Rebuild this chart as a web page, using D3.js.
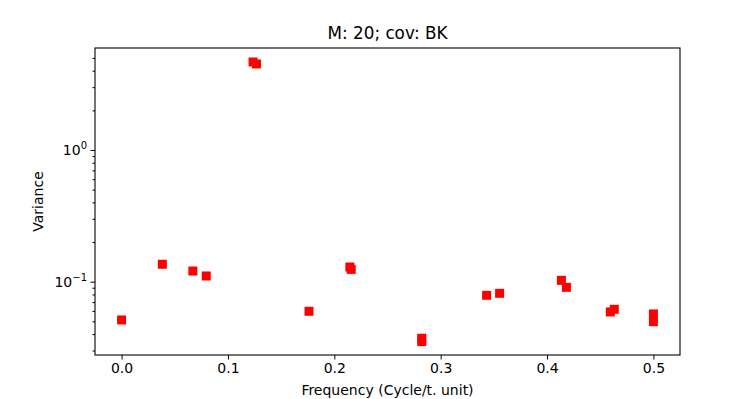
<!DOCTYPE html>
<html>
<head>
<meta charset="utf-8">
<script src="https://cdn.jsdelivr.net/npm/d3@7"></script>
<style>
  body { margin: 0; background: #fff; }
  text { font-family: "DejaVu Sans", sans-serif; fill: #000; }
</style>
</head>
<body>
<div id="chart"></div>
<script>
// frequencies and variances
var freq = [0.0, 0.0383, 0.067, 0.0796, 0.1236, 0.1268, 0.1762, 0.2146, 0.2159,
            0.2822, 0.2822, 0.3432, 0.3554, 0.4135, 0.4182, 0.4595, 0.4632, 0.5, 0.5];
var variance = [0.0512, 0.1356, 0.1205, 0.1105, 4.66, 4.50, 0.0596, 0.1293, 0.124,
                0.0372, 0.0351, 0.0788, 0.0816, 0.1024, 0.0906, 0.0589, 0.0617, 0.0569, 0.0497];
var xTicks = [0.0, 0.1, 0.2, 0.3, 0.4, 0.5];
var yMajor = [0.1, 1];
var titleText = "M: 20; cov: BK";

(function () {
  var W = 756, H = 399;
  var mLeft = 95, mRight = 680, mTop = 48, mBottom = 355;

  var svg = d3.select("#chart").append("svg")
      .attr("width", W).attr("height", H);

  var x = d3.scaleLinear().domain([-0.025, 0.525]).range([mLeft, mRight]);
  var y = d3.scaleLog().domain([0.02775, 5.95]).range([mBottom, mTop]);

  // minor ticks for log axis
  var yMinor = [];
  [0.01, 0.1, 1].forEach(function (dec) {
    for (var k = 2; k <= 9; k++) {
      var v = dec * k;
      if (v >= y.domain()[0] && v <= y.domain()[1]) yMinor.push(v);
    }
  });

  var pts = freq.map(function (f, i) { return { f: f, v: variance[i] }; });

  svg.append("g").selectAll("rect")
    .data(pts)
    .enter().append("rect")
      .attr("x", function (d) { return x(d.f) - 4.5; })
      .attr("y", function (d) { return y(d.v) - 4.5; })
      .attr("width", 9).attr("height", 9)
      .attr("fill", "#ff0000");

  // frame
  svg.append("rect")
    .attr("x", mLeft).attr("y", mTop)
    .attr("width", mRight - mLeft).attr("height", mBottom - mTop)
    .attr("fill", "none").attr("stroke", "#000").attr("stroke-width", 1.1);

  var xAxis = d3.axisBottom(x).tickValues(xTicks).tickFormat(d3.format(".1f"))
    .tickSize(4.5).tickPadding(4);
  var gx = svg.append("g").attr("transform", "translate(0," + mBottom + ")").call(xAxis);
  gx.select(".domain").remove();
  gx.selectAll("text").style("font-size", "14px").style("font-family", "DejaVu Sans");

  var yMinorAxis = d3.axisLeft(y).tickValues(yMinor).tickFormat("").tickSize(2.5);
  var gym = svg.append("g").attr("transform", "translate(" + mLeft + ",0)").call(yMinorAxis);
  gym.select(".domain").remove();

  var yAxis = d3.axisLeft(y).tickValues(yMajor).tickFormat("").tickSize(4.5);
  var gy = svg.append("g").attr("transform", "translate(" + mLeft + ",0)").call(yAxis);
  gy.select(".domain").remove();

  var expo = { 0.1: "\u22121", 1: "0" };
  yMajor.forEach(function (v) {
    var t = svg.append("text")
      .attr("x", mLeft - 8).attr("y", y(v) + 5)
      .attr("text-anchor", "end")
      .style("font-size", "14px");
    t.append("tspan").text("10");
    t.append("tspan").attr("dy", -6).style("font-size", "10px").text(expo[v]);
  });

  svg.append("text")
    .attr("x", (mLeft + mRight) / 2).attr("y", 395)
    .attr("text-anchor", "middle").style("font-size", "14px")
    .text("Frequency (Cycle/t. unit)");

  svg.append("text")
    .attr("transform", "translate(43," + ((mTop + mBottom) / 2) + ") rotate(-90)")
    .attr("text-anchor", "middle").style("font-size", "14px")
    .text("Variance");

  svg.append("text")
    .attr("x", (mLeft + mRight) / 2).attr("y", 39)
    .attr("text-anchor", "middle").style("font-size", "16.8px")
    .text(titleText);
})();
</script>
</body>
</html>
